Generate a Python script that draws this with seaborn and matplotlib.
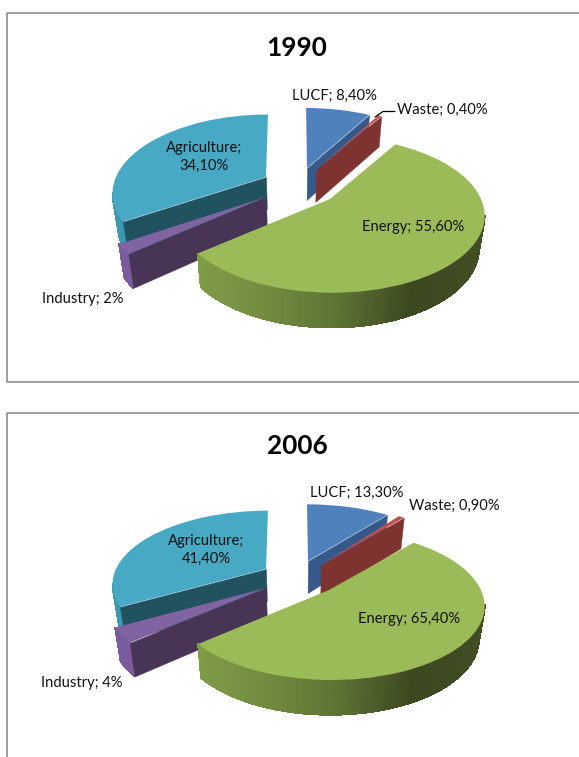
import numpy as np
import matplotlib
matplotlib.use("Agg")
import matplotlib.pyplot as plt
from matplotlib.transforms import Transform
from matplotlib.collections import PolyCollection
from matplotlib.patches import Rectangle
import seaborn as sns

# ---- data ----
categories = ["LUCF", "Waste", "Energy", "Industry", "Agriculture"]
values_1990 = [8.4, 0.4, 55.6, 2, 34.1]
values_2006 = [13.3, 0.9, 65.4, 4, 41.4]
labels_1990 = ["LUCF; 8,40%", "Waste; 0,40%", "Energy; 55,60%", "Industry; 2%", "Agriculture;\n34,10%"]
labels_2006 = ["LUCF; 13,30%", "Waste; 0,90%", "Energy; 65,40%", "Industry; 4%", "Agriculture;\n41,40%"]

# ---- style / layout (pixels) ----
top_colors = ["#4f81bd", "#c0504d", "#9bbb59", "#8064a2", "#47a9c4"]
cut_colors = ["#35598a", "#7f3331", "#5f7a35", "#483556", "#21525f"]
side_palettes = [
    ["#35598a", "#35598a"], ["#7f3331", "#7f3331"],
    ["#7f9c48", "#728a40", "#5c7234", "#3c4820", "#414d23"],
    ["#7a5b9e", "#7a5b9e"], ["#3f9ab3", "#3b93ab"],
]
side_range = {0: (300, 380), 1: (310, 390), 2: (196, 485), 3: (115, 135), 4: (110, 130)}
draw_order = [0, 1, 4, 3, 2]
K = 0.2
DEPTH = 32
VX = 294
SKEW = 0.07
TAPER = 0.03
TEXT_DY = 1.5

layout_1990 = dict(
    apex=[(307, 168), (316, 170), (330, 199), (266, 197), (266, 177)],
    rx=[147, 149, 151, 154, 150], ry=[72, 74, 75, 79, 75],
    title=(297, 47), title_text="1990",
    text=[(334, 94), (442, 108), (413, 225), (83, 297), (204, 155)],
    box=(6.5, 12.5, 700, 369),
    leader=[(375, 117), (383, 111.5), (395, 111.5)],
)
layout_2006 = dict(
    apex=[(308, 561), (321, 565), (329, 590), (266, 588), (266, 569)],
    rx=[149, 148, 152, 155, 150], ry=[68, 72, 72, 73, 70],
    title=(297, 445), title_text="2006",
    text=[(357, 491), (454, 504), (409, 617), (82, 681), (206, 548)],
    box=(6.5, 413, 700, 500),
    leader=None,
)


class DiscProjection(Transform):
    """Tilted-disc perspective: unit pie coordinates to chart pixels."""
    input_dims = 2
    output_dims = 2
    is_separable = False
    has_inverse = False

    def __init__(self, apex, rx, ry):
        super().__init__()
        self.apex, self.rx, self.ry = apex, rx, ry

    def transform_non_affine(self, values):
        v = np.asarray(values, dtype=float)
        s = 1.0 / (1.0 + K * v[:, 1])
        lean = (VX - self.apex[0]) * SKEW * v[:, 1]
        return np.column_stack([self.apex[0] + self.rx * v[:, 0] * s + lean,
                                self.apex[1] - self.ry * v[:, 1] * s])


def depth(y):
    s = 1.0 / (1.0 + K * np.asarray(y))
    return DEPTH * (1 + 0.35 * (s - 1))


def below(p, d):
    """Point under p on the slice's lower rim: walls converge slightly downwards."""
    return np.array([p[0] + (VX - p[0]) * TAPER, p[1] + d])


def draw_chart(ax, values, labels, lay):
    wedges, _ = ax.pie(values, startangle=90, counterclock=False, colors=top_colors,
                       wedgeprops=dict(linewidth=0))
    for z, i in enumerate(draw_order):
        w = wedges[i]
        proj = DiscProjection(lay["apex"][i], lay["rx"][i], lay["ry"][i])
        base = 10 + 3 * z
        w.set_transform(proj + ax.transData)
        w.set_zorder(base + 2)
        w.set_clip_on(False)

        # outer wall, front-facing part only
        th = np.radians(np.linspace(w.theta1, w.theta2, 240))
        pts = np.column_stack([np.cos(th), np.sin(th)])
        scr = proj.transform_non_affine(pts)
        d = depth(pts[:, 1])
        cmap = sns.blend_palette(side_palettes[i], n_colors=256, as_cmap=True)
        lo, hi = side_range[i]
        polys, cols = [], []
        for j in range(len(th) - 1):
            if pts[j, 1] < -K and pts[j + 1, 1] < -K:
                polys.append([scr[j], scr[j + 1],
                              below(scr[j + 1], d[j + 1]), below(scr[j], d[j])])
                cols.append(cmap(np.clip((scr[j, 0] - lo) / (hi - lo), 0, 1)))
        if polys:
            ax.add_collection(PolyCollection(polys, facecolors=cols, edgecolors=cols,
                                             linewidths=0.6, antialiaseds=False, zorder=base))

        # visible cut face of the slice
        if w.theta2 - w.theta1 < 180:
            mid = np.radians((w.theta1 + w.theta2) / 2)
            t = np.radians(w.theta1 if np.cos(mid) > 0 else w.theta2)
            outer = np.array([np.cos(t), np.sin(t)])
            p_o = proj.transform_non_affine(outer[None, :])[0]
            p_a = np.array(lay["apex"][i], dtype=float)
            ax.add_collection(PolyCollection(
                [[p_a, p_o, below(p_o, float(depth(outer[1]))), below(p_a, DEPTH)]],
                facecolors=[cut_colors[i]], edgecolors=[cut_colors[i]],
                linewidths=0.3, zorder=base + 1))

    for (x, y), s in zip(lay["text"], labels):
        ax.text(x, y + TEXT_DY, s, ha="center", va="center", fontsize=10.6, color="#111111",
                linespacing=1.35, zorder=60)
    tx, ty = lay["title"]
    ax.text(tx, ty + 1, lay["title_text"], ha="center", va="center", fontsize=18.8,
            fontweight="bold", color="black", zorder=60)
    x0, y0, w_, h_ = lay["box"]
    ax.add_patch(Rectangle((x0, y0), w_, h_, fill=False, edgecolor="#868686",
                           linewidth=1.1, zorder=1))
    if lay["leader"]:
        lx, ly = zip(*lay["leader"])
        ax.plot(lx, ly, color="black", linewidth=0.9, zorder=60)


sns.set_theme(style="white")
plt.rcParams["font.family"] = ["Lato", "DejaVu Sans"]

fig = plt.figure(figsize=(5.79, 7.57), dpi=100)
ax = fig.add_axes([0, 0, 1, 1])
draw_chart(ax, values_1990, labels_1990, layout_1990)
draw_chart(ax, values_2006, labels_2006, layout_2006)
ax.set_aspect("auto")
ax.set_xlim(0, 579)
ax.set_ylim(757, 0)
ax.set_axis_off()
fig.savefig("out.png", dpi=100, facecolor="white")
